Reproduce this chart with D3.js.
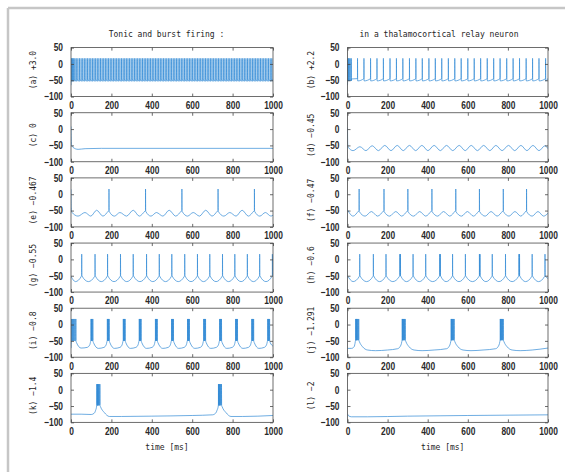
<!DOCTYPE html>
<html>
<head>
<meta charset="utf-8">
<script src="https://cdn.jsdelivr.net/npm/d3@7"></script>
<style>
  html, body { margin: 0; padding: 0; background: #fff; }
  svg { display: block; }
  .tick text { font-family: "Liberation Sans", Arial, sans-serif; font-size: 10.5px; font-weight: bold; fill: #2a2a2a; }
  .tick line { stroke: #444; stroke-width: 0.8; }
  .mono { font-family: "DejaVu Sans Mono", monospace; font-size: 8px; fill: #1e1e1e; }
</style>
</head>
<body>
<svg id="chart"></svg>
<script>
// ---- data (time in ms, membrane potential in mV) ----
const titles = ['Tonic and burst firing :', 'in a thalamocortical relay neuron'];
const panelLabels = ['(a)  +3.0', '(b)  +2.2', '(c)  0', '(d)  \u22120.45', '(e)  \u22120.467', '(f)  \u22120.47',
    '(g)  \u22120.55', '(h)  \u22120.6', '(i)  \u22120.8', '(j)  \u22121.291', '(k)  \u22121.4', '(l)  \u22122'];
const xTicks = [0, 200, 400, 600, 800, 1000];
const yTicks = [-100, -50, 0, 50];
const xLabel = 'time [ms]';

// spike times
const spikesA = [1, 4, 8, 13, 19, 26, 34, 42, 50, 58, 66, 74, 82, 90, 98, 106, 114, 122, 130, 138, 146, 154, 162, 170,
    178, 186, 194, 202, 210, 218, 226, 234, 242, 250, 258, 266, 274, 282, 290, 298, 306, 314, 322, 330, 338, 346, 354,
    362, 370, 378, 386, 394, 402, 410, 418, 426, 434, 442, 450, 458, 466, 474, 482, 490, 498, 506, 514, 522, 530, 538,
    546, 554, 562, 570, 578, 586, 594, 602, 610, 618, 626, 634, 642, 650, 658, 666, 674, 682, 690, 698, 706, 714, 722,
    730, 738, 746, 754, 762, 770, 778, 786, 794, 802, 810, 818, 826, 834, 842, 850, 858, 866, 874, 882, 890, 898, 906,
    914, 922, 930, 938, 946, 954, 962, 970, 978, 986, 994];
const spikesB = [1, 4, 8, 13, 19, 50, 82, 115, 147, 179, 212, 244, 276, 309, 341, 373, 406, 438, 470, 503, 535, 567,
    600, 632, 664, 697, 729, 761, 794, 826, 858, 891, 923, 955, 988];
const spikesE = [188, 369, 549, 728, 908];
const spikesF = [58, 182, 301, 421, 540, 658, 777, 893];
const spikesG = [53, 119, 181, 245, 308, 374, 437, 499, 563, 626, 687, 750, 811, 873, 934, 997];
const spikesH = [61, 129, 192, 261, 264, 327, 390, 460, 463, 524, 588, 658, 661, 722, 788, 855, 858, 921, 985];
const spikesI = [3, 6, 10, 14, 19, 24, 99, 101.5, 104.5, 108, 180, 182.5, 185.5, 189, 259, 261.5, 264.5, 268,
    338, 340.5, 343.5, 347, 418, 420.5, 423.5, 427, 498, 500.5, 503.5, 507, 577, 579.5, 582.5, 586,
    657, 659.5, 662.5, 666, 736, 738.5, 741.5, 745, 815, 817.5, 820.5, 824, 895, 897.5, 900.5, 904,
    974, 976.5, 979.5, 983];
const spikesJ = [41, 43, 45.5, 48.5, 52, 56, 273, 275, 277.5, 280.5, 284, 288, 517, 519, 521.5, 524.5, 528, 532,
    762, 764, 766.5, 769.5, 773, 777];
const spikesK = [128, 130, 132.5, 135.5, 139, 143, 730, 732, 734.5, 737.5, 741, 745];

// subthreshold trace key points [t, v]
const baseA = [[0, -65], [1000, -46]];
const baseB = [[0, -65], [20, -46], [1000, -44]];
const baseC = [[0, 8], [1, -30], [3, -48], [10, -56], [35, -62], [70, -60], [150, -59], [1000, -59]];
const baseD = [[0, 5], [1, -45], [4, -56], [28, -66], [62, -54], [92, -66], [123, -51], [154, -66], [186, -50],
    [217, -66], [248, -50], [278, -66], [309, -50], [340, -66], [371, -50], [401, -66], [432, -50], [463, -66],
    [494, -50], [525, -66], [557, -50], [587, -66], [617, -50], [648, -66], [679, -50], [710, -66], [740, -50],
    [771, -66], [803, -50], [834, -66], [865, -50], [895, -66], [925, -50], [955, -66], [985, -51], [1000, -60]];
const baseE = [[0, 15], [1, -40], [4, -55], [35, -67], [69, -56], [98, -67], [127, -49], [158, -67], [186, -51],
    [215, -67], [242, -56], [275, -67], [308, -49], [338, -67], [367, -51], [396, -67], [423, -56], [455, -67],
    [486, -49], [518, -67], [547, -51], [577, -67], [605, -56], [636, -67], [667, -49], [698, -67], [726, -51],
    [757, -67], [786, -56], [817, -67], [847, -49], [878, -67], [906, -51], [935, -67], [962, -56], [990, -67],
    [1000, -64]];
const baseF = [[0, -48], [28, -67], [56, -51], [88, -67], [119, -53], [150, -67], [180, -51], [210, -67], [241, -53],
    [270, -67], [299, -51], [330, -67], [360, -53], [390, -67], [419, -51], [450, -67], [479, -53], [510, -67],
    [538, -51], [569, -67], [598, -53], [628, -67], [656, -51], [687, -67], [716, -53], [746, -67], [775, -51],
    [806, -67], [835, -53], [864, -67], [891, -51], [921, -67], [950, -53], [978, -67], [1000, -58]];
const baseG = [[0, -52], [22, -68], [51, -52], [86, -68], [117, -52], [150, -68], [179, -52], [213, -68], [243, -52],
    [276, -68], [306, -52], [341, -68], [372, -52], [405, -68], [435, -52], [468, -68], [497, -52], [531, -68],
    [561, -52], [594, -68], [624, -52], [656, -68], [685, -52], [718, -68], [748, -52], [780, -68], [809, -52],
    [842, -68], [871, -52], [903, -68], [932, -52], [965, -68], [995, -52]];
const baseH = [[0, -50], [28, -68], [59, -52], [95, -68], [127, -52], [160, -68], [190, -52], [226, -68], [259, -52],
    [294, -68], [325, -52], [358, -68], [388, -52], [425, -68], [458, -52], [492, -68], [522, -52], [556, -68],
    [586, -52], [623, -68], [656, -52], [690, -68], [720, -52], [755, -68], [786, -52], [821, -68], [853, -52],
    [888, -68], [919, -52], [953, -68], [983, -52], [1000, -58]];
const baseI = [[0, -72], [2, -52], [27, -55], [50, -72], [80, -70], [93, -62], [97, -52],
    [111, -55], [135, -73], [163, -70], [174, -62], [178, -52], [192, -55], [215, -73], [242, -70], [253, -62], [257, -52],
    [271, -55], [294, -73], [321, -70], [332, -62], [336, -52], [350, -55], [374, -73], [401, -70], [412, -62], [416, -52],
    [430, -55], [454, -73], [481, -70], [492, -62], [496, -52], [510, -55], [533, -73], [560, -70], [571, -62], [575, -52],
    [589, -55], [613, -73], [640, -70], [651, -62], [655, -52], [669, -55], [692, -73], [719, -70], [730, -62], [734, -52],
    [748, -55], [771, -73], [798, -70], [809, -62], [813, -52], [827, -55], [851, -73], [878, -70], [889, -62], [893, -52],
    [907, -55], [930, -73], [957, -70], [968, -62], [972, -52], [986, -55], [1000, -66]];
const baseJ = [[0, -73], [20, -73], [33, -68], [39, -52], [59, -52], [75, -68], [100, -78], [140, -80], [200, -78],
    [250, -74], [262, -68], [271, -52], [291, -52], [307, -68], [332, -78], [372, -80], [432, -78], [494, -74],
    [506, -68], [515, -52], [535, -52], [551, -68], [576, -78], [616, -80], [676, -78], [739, -74], [751, -68],
    [760, -52], [780, -52], [796, -68], [821, -78], [861, -80], [921, -78], [1000, -72]];
const baseK = [[0, -75], [50, -75], [100, -76], [115, -72], [122, -63], [127, -50], [146, -52], [165, -70],
    [190, -82], [250, -82], [400, -81], [600, -79], [700, -77], [716, -72], [723, -63], [729, -50], [748, -52],
    [767, -70], [792, -82], [850, -82], [1000, -79]];
const baseL = [[0, -74], [5, -80], [20, -83], [100, -83], [300, -81], [600, -79], [1000, -77]];

// per panel: value just before a spike, spike peak, value just after
const spikeShapes = [[-46, 17, -53], [-45, 17, -52], null, null, [-50, 16, -52], [-50, 16, -53],
    [-50, 16, -50], [-50, 16, -50], [-47, 17, -50], [-45, 17, -48], [-45, 17, -48], null];

const bases = [baseA, baseB, baseC, baseD, baseE, baseF, baseG, baseH, baseI, baseJ, baseK, baseL];
const spikes = [spikesA, spikesB, [], [], spikesE, spikesF, spikesG, spikesH, spikesI, spikesJ, spikesK, []];

// ---- layout ----
const W = 565, H = 472;
const colX = [71, 347.5], colW = [202, 200.5];
const rowTop0 = 47.6, rowStep = 65.15, plotH = 49;
const lineColor = '#3189d6';
const squeeze = 0.8;   // tick digits in the figure are condensed

const svg = d3.select('#chart').attr('width', W).attr('height', H);

// scan frame
svg.append('line').attr('x1', 8).attr('x2', W).attr('y1', 8).attr('y2', 8)
    .attr('stroke', '#c6c6c6').attr('stroke-width', 2.5);
svg.append('line').attr('x1', 8).attr('x2', 8).attr('y1', 8).attr('y2', H)
    .attr('stroke', '#c6c6c6').attr('stroke-width', 2.5);

function tracePoints(base, sp, shape) {
    const pts = base.slice();
    sp.forEach(t => {
        pts.push([t - 0.3, shape[0]], [t, shape[1]], [t + 0.7, shape[2]]);
    });
    return pts.sort((a, b) => a[0] - b[0]);
}

const fmt = d3.format('d');

panelLabels.forEach((label, i) => {
    const col = i % 2, row = Math.floor(i / 2);
    const x0 = colX[col], w = colW[col];
    const y0 = rowTop0 + row * rowStep;

    const x = d3.scaleLinear().domain([0, 1000]).range([0, w]);
    const y = d3.scaleLinear().domain([-100, 50]).range([plotH, 0]);

    const g = svg.append('g').attr('transform', `translate(${x0},${y0})`);

    g.append('clipPath').attr('id', 'clip' + i)
        .append('rect').attr('width', w).attr('height', plotH);

    const line = d3.line()
        .x(d => x(d[0]))
        .y(d => y(d[1]))
        .curve(d3.curveMonotoneX);

    g.append('path')
        .datum(tracePoints(bases[i], spikes[i], spikeShapes[i]))
        .attr('clip-path', `url(#clip${i})`)
        .attr('fill', 'none')
        .attr('stroke', lineColor)
        .attr('stroke-width', 0.7)
        .attr('d', line);

    // axes with inward ticks on all sides
    const xb = g.append('g').attr('transform', `translate(0,${plotH})`)
        .call(d3.axisBottom(x).tickValues(xTicks).tickFormat(fmt).tickSizeInner(-3).tickSizeOuter(0).tickPadding(5));
    const xt = g.append('g')
        .call(d3.axisTop(x).tickValues(xTicks).tickSizeInner(-3).tickSizeOuter(0).tickFormat(''));
    const yl = g.append('g')
        .call(d3.axisLeft(y).tickValues(yTicks).tickFormat(fmt).tickSizeInner(-3).tickSizeOuter(0).tickPadding(8));
    const yr = g.append('g').attr('transform', `translate(${w},0)`)
        .call(d3.axisRight(y).tickValues(yTicks).tickSizeInner(-3).tickSizeOuter(0).tickFormat(''));
    [xb, xt, yl, yr].forEach(a => a.select('.domain').remove());

    xb.selectAll('.tick text').attr('transform', `scale(${squeeze},1)`);
    yl.selectAll('.tick text').attr('x', -8 / squeeze).attr('transform', `scale(${squeeze},1)`);

    g.append('rect')
        .attr('width', w).attr('height', plotH)
        .attr('fill', 'none').attr('stroke', '#4a4a4a').attr('stroke-width', 0.8);

    // rotated panel label
    svg.append('text')
        .attr('class', 'mono')
        .attr('text-anchor', 'middle')
        .attr('transform', `translate(${col === 0 ? 36 : 314},${y0 + plotH / 2 - 2}) rotate(-90)`)
        .text(label);

    if (row === 5) {
        svg.append('text')
            .attr('class', 'mono')
            .attr('text-anchor', 'middle')
            .attr('x', x0 + w / 2 - 5)
            .attr('y', y0 + plotH + 28)
            .text(xLabel);
    }
});

svg.append('text').attr('class', 'mono').attr('text-anchor', 'middle')
    .attr('x', 166.5).attr('y', 37).text(titles[0]);
svg.append('text').attr('class', 'mono').attr('text-anchor', 'middle')
    .attr('x', 439).attr('y', 37).text(titles[1]);
</script>
</body>
</html>
